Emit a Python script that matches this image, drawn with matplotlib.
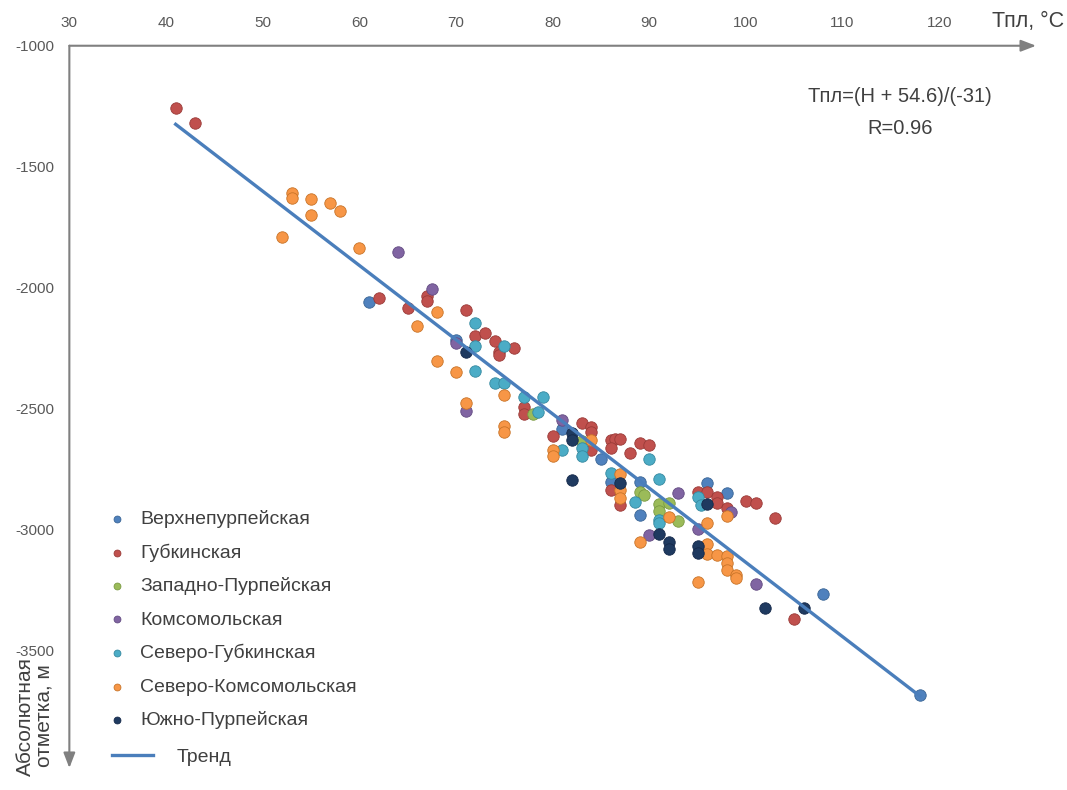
import matplotlib.pyplot as plt

plt.rcParams['font.family'] = ['Liberation Sans', 'DejaVu Sans']
plt.rcParams['axes.unicode_minus'] = False

# месторождения
names = ['Верхнепурпейская', 'Губкинская', 'Западно-Пурпейская', 'Комсомольская',
         'Северо-Губкинская', 'Северо-Комсомольская', 'Южно-Пурпейская']
colors = ['#4F81BD', '#C0504D', '#9BBB59', '#8064A2', '#4BACC6', '#F79646', '#1F3A60']
edges = ['#3A6595', '#9A3B38', '#7A9A42', '#634C82', '#3689A0', '#C87428', '#15294A']

# Тпл, °C / абс. отметка, м
t_verkh = [61, 70, 81, 85, 86, 89, 89, 96, 98, 108, 118]
h_verkh = [-2059, -2218, -2587, -2711, -2806, -2804, -2942, -2810, -2849, -3270, -3686]

t_gubk = [41, 43, 62, 65, 67, 67, 71, 72, 73, 74, 74.5, 74.5, 76, 77, 77, 80, 83, 84, 84, 84,
          86, 86.5, 87, 86, 88, 89, 90, 86, 87, 95, 96, 97, 97, 98, 100, 101, 103, 105]
h_gubk = [-1257, -1320, -2042, -2084, -2036, -2056, -2095, -2201, -2187, -2222,
          -2266, -2280, -2249, -2493, -2524, -2613, -2562, -2579, -2597, -2673,
          -2631, -2628, -2628, -2666, -2684, -2645, -2652, -2838, -2900, -2845,
          -2845, -2865, -2893, -2914, -2883, -2890, -2955, -3370]

t_zap = [78, 83, 89, 89.5, 91, 91, 92, 93]
h_zap = [-2522, -2635, -2845, -2860, -2895, -2923, -2893, -2966]

t_koms = [64, 67.5, 70, 71, 81, 93, 98.5, 90, 95, 101]
h_koms = [-1855, -2006, -2231, -2510, -2550, -2852, -2928, -3026, -2998, -3226]

t_sgub = [72, 72, 75, 72, 74, 75, 77, 79, 78.5, 81, 83, 83, 86, 88.5, 90, 91, 91, 91, 95, 95.4]
h_sgub = [-2149, -2242, -2242, -2344, -2397, -2397, -2452, -2455, -2514, -2673,
          -2666, -2697, -2769, -2888, -2711, -2794, -2962, -2976, -2866, -2900]

t_skom = [52, 53, 53, 55, 55, 57, 58, 60, 66, 68, 68, 70, 71, 75, 75, 75, 80, 80, 84, 87,
          87, 87, 89, 92, 96, 98, 95, 96, 96, 97, 98, 98, 98, 99, 99]
h_skom = [-1793, -1611, -1629, -1633, -1700, -1652, -1685, -1838, -2160, -2100,
          -2303, -2351, -2477, -2445, -2572, -2597, -2673, -2697, -2631, -2773,
          -2838, -2870, -3052, -2949, -2973, -2945, -3217, -3061, -3104, -3107,
          -3111, -3141, -3169, -3190, -3203]

t_yuzh = [71, 82, 82, 82, 87, 91, 92, 92, 95, 95, 96, 102, 106]
h_yuzh = [-2266, -2604, -2631, -2795, -2810, -3018, -3052, -3080, -3070, -3097, -2896, -3328, -3328]

# тренд (концы линии)
trend_t = [41, 118]
trend_h = [-1325, -3690]

xticks = list(range(30, 121, 10))
yticks = list(range(-1000, -3501, -500))

all_t = [t_verkh, t_gubk, t_zap, t_koms, t_sgub, t_skom, t_yuzh]
all_h = [h_verkh, h_gubk, h_zap, h_koms, h_sgub, h_skom, h_yuzh]

fig = plt.figure(figsize=(10.67, 7.90), dpi=100)
ax = fig.add_axes([0.065, 0.0278, 0.906, 0.9143])
ax.set_xlim(30, 130.03)
ax.set_ylim(-3988, -1000)

handles = []
for t, h, c, e, n in zip(all_t, all_h, colors, edges, names):
    sc = ax.scatter(t, h, s=68, color=c, edgecolors=e, linewidths=0.6, label=n, zorder=3)
    handles.append(sc)

trend, = ax.plot(trend_t, trend_h, color='#4A7EBB', lw=2.4, zorder=4, label='Тренд')

for s in ax.spines.values():
    s.set_visible(False)
ax.xaxis.tick_top()
ax.set_xticks(xticks)
ax.set_yticks(yticks)
ax.tick_params(length=0, pad=11, labelsize=11, labelcolor='#595959')

arrow = dict(arrowstyle='-|>,head_length=0.65,head_width=0.25', color='#808080',
             lw=1.5, shrinkA=0, shrinkB=0, mutation_scale=14)
ax.annotate('', xy=(1, 1), xytext=(0, 1), xycoords='axes fraction',
            arrowprops=arrow, annotation_clip=False)
ax.annotate('', xy=(0, 0), xytext=(0, 1), xycoords='axes fraction',
            arrowprops=arrow, annotation_clip=False)

fig.text(1064 / 1067, 1 - 22 / 790, 'Тпл, °C', ha='right', va='center', fontsize=15.5, color='#404040')
fig.text(900 / 1067, 1 - 97 / 790, 'Тпл=(H + 54.6)/(-31)', ha='center', va='center',
         fontsize=14.5, color='#404040')
fig.text(900 / 1067, 1 - 129 / 790, 'R=0.96', ha='center', va='center', fontsize=14.5, color='#404040')
fig.text(35 / 1067, 1 - 716 / 790, 'Абсолютная\nотметка, м', rotation=90, ha='center', va='center',
         multialignment='center', linespacing=1.0, fontsize=15, color='#404040')

leg1 = ax.legend(handles=handles, loc='upper left', bbox_to_anchor=(110 / 1067, 1 - 510 / 790),
                 bbox_transform=fig.transFigure, frameon=False, fontsize=14, handlelength=0.72,
                 handletextpad=0.82, labelspacing=0.8, borderpad=0, borderaxespad=0,
                 markerscale=0.6, labelcolor='#404040')
ax.add_artist(leg1)
ax.legend(handles=[trend], loc='upper left', bbox_to_anchor=(112 / 1067, 1 - 748 / 790),
          bbox_transform=fig.transFigure, frameon=False, fontsize=14, handlelength=2.11,
          handletextpad=1.23, borderpad=0, borderaxespad=0, labelcolor='#404040')

fig.savefig('out.png', dpi=100)
